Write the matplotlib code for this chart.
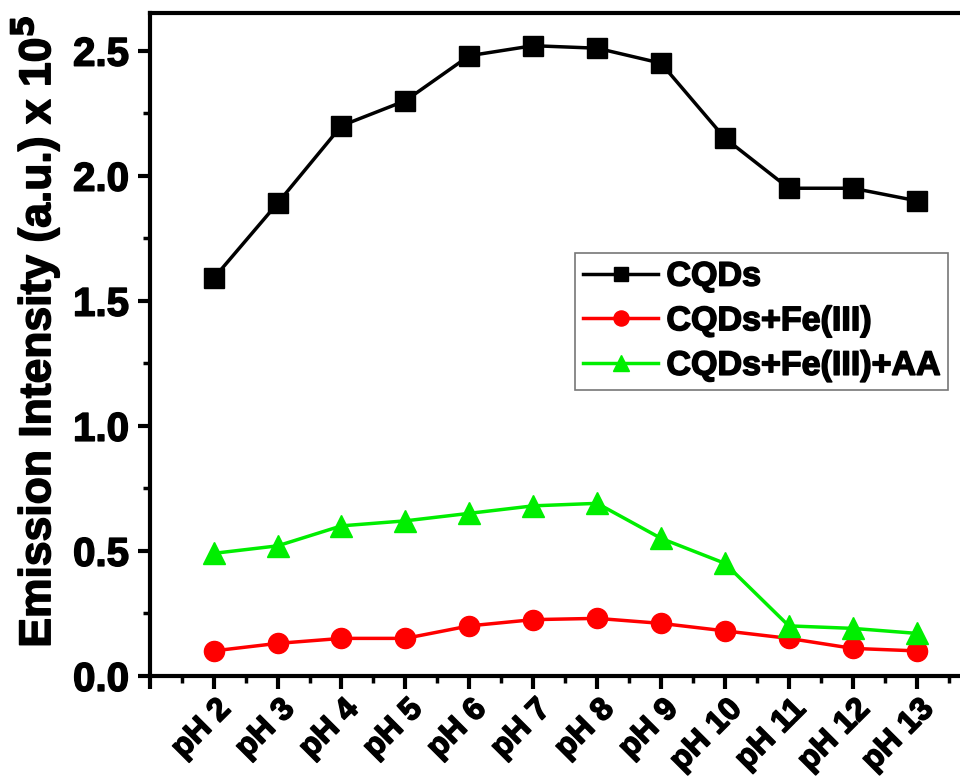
import numpy as np
import matplotlib
matplotlib.use('Agg')
import matplotlib.pyplot as plt
import matplotlib.patheffects as pe
from matplotlib.ticker import MultipleLocator, FormatStrFormatter
from matplotlib.transforms import ScaledTranslation

plt.rcParams['font.family'] = ['Liberation Sans', 'DejaVu Sans']
plt.rcParams['font.weight'] = 'bold'
plt.rcParams['mathtext.default'] = 'bf'

labels = ['pH 2', 'pH 3', 'pH 4', 'pH 5', 'pH 6', 'pH 7', 'pH 8',
          'pH 9', 'pH 10', 'pH 11', 'pH 12', 'pH 13']
cqds = [1.59, 1.89, 2.20, 2.30, 2.48, 2.52, 2.51, 2.45, 2.15, 1.95, 1.95, 1.90]
cqds_fe = [0.10, 0.13, 0.15, 0.15, 0.20, 0.225, 0.23, 0.21, 0.18, 0.15, 0.11, 0.10]
cqds_fe_aa = [0.49, 0.52, 0.60, 0.62, 0.65, 0.68, 0.69, 0.55, 0.45, 0.20, 0.19, 0.17]

x = np.arange(2, 14)

fig = plt.figure(figsize=(9.6, 7.76), dpi=100)
ax = fig.add_axes([0.156, 0.129, 0.92, 0.854])

ax.plot(x, cqds, color='black', lw=2.5, marker='s', ms=14, label='CQDs')
ax.plot(x, cqds_fe, color='#ff0000', lw=2.5, marker='o', ms=14.5, label='CQDs+Fe(III)')
ax.plot(x, cqds_fe_aa, color='#00ee00', lw=2.5, marker='^', ms=16, label='CQDs+Fe(III)+AA')

ax.set_xlim(1, 14.82)
ax.set_ylim(0, 2.65)
ax.set_xticks(np.arange(1, 15))
ax.set_xticklabels([''] + labels + [''])
ax.xaxis.set_minor_locator(MultipleLocator(0.5))
ax.yaxis.set_major_locator(MultipleLocator(0.5))
ax.yaxis.set_minor_locator(MultipleLocator(0.25))
ax.yaxis.set_major_formatter(FormatStrFormatter('%.1f'))

ax.tick_params(which='major', direction='out', length=9, width=3)
ax.tick_params(which='minor', direction='out', length=5, width=2.5)
ax.tick_params(axis='x', which='major', pad=4, labelsize=23)
ax.tick_params(axis='y', labelsize=29, pad=6)

# heavier strokes, like the source figure's text
bold = [pe.withStroke(linewidth=1.1, foreground='black')]

offset = ScaledTranslation(2 / 100, 0, fig.dpi_scale_trans)
for t in ax.get_xticklabels():
    t.set_rotation(45)
    t.set_ha('right')
    t.set_va('top')
    t.set_rotation_mode('anchor')
    t.set_transform(t.get_transform() + offset)
    t.set_path_effects(bold)
for t in ax.get_yticklabels():
    t.set_path_effects(bold)

for s in ['left', 'bottom', 'top']:
    ax.spines[s].set_linewidth(3)
ax.spines['right'].set_visible(False)

ax.set_ylabel('Emission Intensity (a.u.) x 10$^{5}$', fontsize=32, fontweight='bold',
              path_effects=bold)
ax.yaxis.set_label_coords(-0.1, 0.52)

leg = ax.legend(loc='upper left', bbox_to_anchor=(0.481, 0.638), borderaxespad=0,
                fontsize=24.5, frameon=True, fancybox=False, edgecolor='#555555',
                handlelength=2.2, handletextpad=0.25, borderpad=0.25,
                labelspacing=0.4, markerscale=0.75)
leg.get_frame().set_linewidth(1.2)
for t in leg.get_texts():
    t.set_path_effects(bold)

fig.savefig('out.png', dpi=100)
